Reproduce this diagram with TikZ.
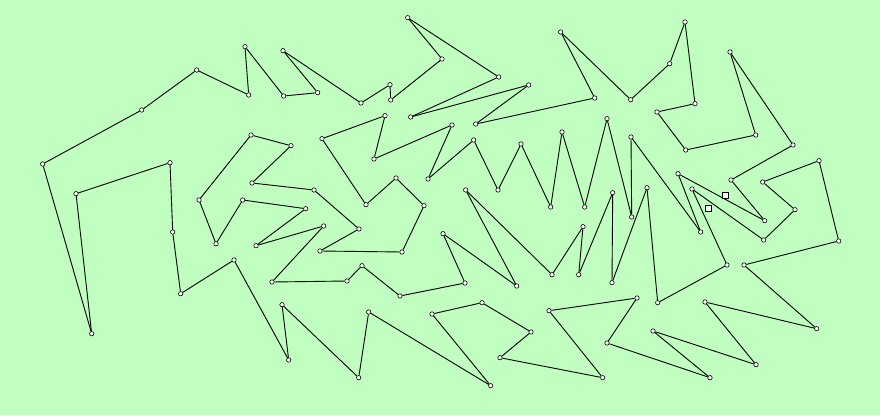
\documentclass[tikz,border=0pt]{standalone}
\usepackage{tikz}
\definecolor{fond}{RGB}{192,255,192}
\tikzset{
	ville/.style={circle,draw=black,fill=white,line width=0.6pt,inner sep=0pt,minimum size=4.4pt},
	marque/.style={rectangle,draw=black,fill=white,line width=0.7pt,inner sep=0pt,minimum size=5.5pt},
	tournee/.style={black,line width=0.9pt}
}
\begin{document}
\begin{tikzpicture}[x=1pt,y=-1pt]
	
	%fond
	\fill[fond] (0,0) rectangle (880,415);
	\useasboundingbox (0,0) rectangle (880,415);

	% villes
	\foreach \n/\x/\y in {1/42.7/164, 2/141.7/110, 3/196.7/70, 4/248.7/95, 5/245/46.7,
		6/283.7/96, 7/317.7/92.7, 8/283/50.7, 9/361/103, 10/390/84.7,
		11/390.7/100, 12/442/59, 13/407.7/17.7, 14/498.7/77, 15/410.7/117,
		16/528.7/85, 17/475.7/124, 18/594.7/98, 19/560.7/32, 20/630.7/99.7,
		21/669.7/63.7, 22/685/22, 23/695/103.7, 24/657/112, 25/685.7/150,
		26/755.7/135, 27/730/52, 28/793/145, 29/731/180, 30/764.7/220.7,
		31/678/173.7, 32/700.7/232, 33/631/137, 34/631.7/217, 35/607/118.7,
		36/584.7/207, 37/562/132, 38/550.7/207, 39/521/144, 40/498/190,
		41/473.7/140, 42/428/179, 43/452/125, 44/374/159, 45/385/115.7,
		46/322/138.7, 47/366/204.7, 48/396/178, 49/424/205.7, 50/402/252,
		51/320/251, 52/359/229, 53/314/190, 54/252/183, 55/291/145.7,
		56/251/135, 57/199/200, 58/216/243.7, 59/242.7/200, 60/305.7/208.7,
		61/256/245.7, 62/323.7/226, 63/272/282, 64/347/281, 65/362/265.7,
		66/400/296, 67/465/283, 68/443/233.7, 69/516.7/286, 70/465.7/190,
		71/552/274.7, 72/583/226.7, 73/578.7/274.7, 74/612.7/192.7, 75/612/282.7,
		76/647/187.7, 77/657.7/302.7, 78/727/265, 79/692/189, 80/763.7/240,
		81/795/209.7, 82/762.7/182, 83/819/160.7, 84/838.7/241, 85/744/265,
		86/816.7/328.7, 87/705/302, 88/756/364.7, 89/653/331, 90/710/377.7,
		91/607/343, 92/637/298, 93/549/310.7, 94/602.7/377.7, 95/500/357.7,
		96/531/332, 97/482/302.7, 98/432/314, 99/490.7/385.7, 100/368.7/312,
		101/358.7/377.7, 102/282/304.7, 103/288.7/360, 104/234/260, 105/180.7/293.7,
		106/172.7/232, 107/170/162.7, 108/76/193.7, 109/91.7/333.7}
		\node[ville] (p\n) at (\x,\y) {};

	% tournee
	\foreach \i [remember=\i as \j (initially 109)] in {1,...,109}
		\draw[tournee] (p\j) -- (p\i);

	% marques
	\node[marque] (m1) at (725.3,195.3) {};
	\node[marque] (m2) at (708.3,208.3) {};
\end{tikzpicture}
\end{document}
